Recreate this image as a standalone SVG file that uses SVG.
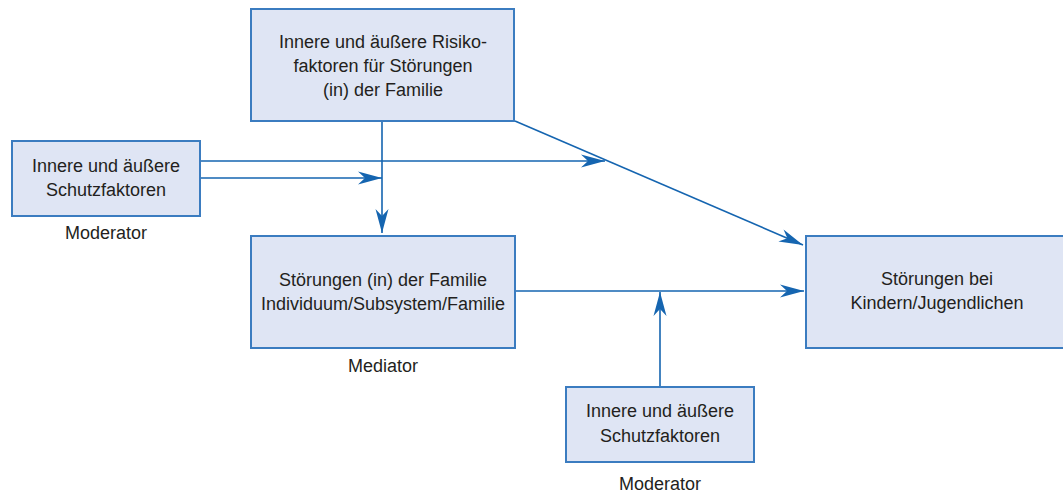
<svg xmlns="http://www.w3.org/2000/svg" width="1063" height="498" viewBox="0 0 1063 498">
<style>
.box{fill:#dfe5f4;stroke:#3b7cc0;stroke-width:2}
.t{font-family:"Liberation Sans",Arial,sans-serif;font-size:18px;fill:#231f20;text-anchor:middle}
.c{stroke:#1565b0;stroke-width:1.6;fill:none;marker-end:url(#ah)}
</style>
<defs>
<marker id="ah" markerUnits="userSpaceOnUse" viewBox="-25 -8 26 16" refX="0" refY="0" markerWidth="26" markerHeight="16" orient="auto">
<path d="M0,0 L-24,-6.5 L-17,0 L-24,6.5 Z" fill="#1565b0"/>
</marker>
</defs>
<rect width="1063" height="498" fill="#ffffff"/>
<g id="connectors">
<line class="c" x1="382" y1="121" x2="382" y2="233"/>
<line class="c" x1="200" y1="178" x2="382" y2="178"/>
<line class="c" x1="200" y1="161" x2="605" y2="161"/>
<line class="c" x1="515" y1="121" x2="803" y2="245"/>
<line class="c" x1="515" y1="291" x2="804" y2="291"/>
<line class="c" x1="660" y1="387" x2="660" y2="292"/>
</g>
<g id="risk">
<rect class="box" x="251" y="9" width="263" height="112"/>
<text class="t" x="383" y="48">Innere und äußere Risiko-</text>
<text class="t" x="383" y="72">faktoren für Störungen</text>
<text class="t" x="383" y="96">(in) der Familie</text>
</g>
<g id="schutz1">
<rect class="box" x="12" y="141" width="188" height="75"/>
<text class="t" x="106" y="172">Innere und äußere</text>
<text class="t" x="106" y="196">Schutzfaktoren</text>
<text class="t" x="106" y="239">Moderator</text>
</g>
<g id="mediator">
<rect class="box" x="251" y="236" width="264" height="112"/>
<text class="t" x="383" y="286">Störungen (in) der Familie</text>
<text class="t" x="383" y="310">Individuum/Subsystem/Familie</text>
<text class="t" x="383" y="372">Mediator</text>
</g>
<g id="kinder">
<rect class="box" x="806" y="236" width="264" height="112"/>
<text class="t" x="937" y="285">Störungen bei</text>
<text class="t" x="937" y="309">Kindern/Jugendlichen</text>
</g>
<g id="schutz2">
<rect class="box" x="566" y="387" width="188" height="75"/>
<text class="t" x="660" y="417">Innere und äußere</text>
<text class="t" x="660" y="442">Schutzfaktoren</text>
<text class="t" x="660" y="490">Moderator</text>
</g>
</svg>
